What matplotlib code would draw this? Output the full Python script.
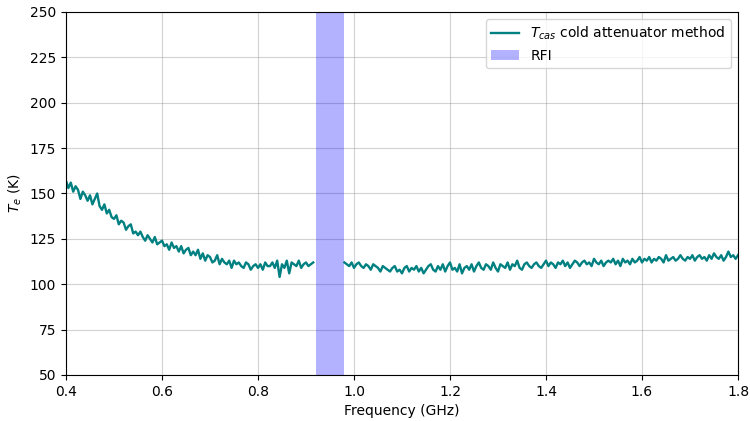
import numpy as np
import matplotlib
matplotlib.use("Agg")
import matplotlib.pyplot as plt

# Receiver noise temperature from the cold attenuator method (K)
freq_low = np.round(np.arange(0.400, 0.9151, 0.005), 3)
te_low = [
    157, 153, 156, 151, 154, 152, 147, 151, 149, 146,
    149, 144, 147, 150, 143, 141, 144, 139, 141, 137,
    136, 138, 133, 135, 134, 130, 132, 133, 128, 129,
    127, 129, 126, 124, 127, 125, 123, 126, 122, 123,
    124, 121, 122, 119, 123, 120, 121, 118, 121, 117,
    119, 120, 116, 118, 116, 119, 114, 117, 113, 116,
    115, 112, 113, 116, 111, 114, 112, 111, 113, 109,
    113, 111, 112, 110, 109, 112, 111, 108, 110, 111,
    109, 111, 108, 112, 110, 110, 112, 109, 113, 104,
    111, 109, 113, 106, 112, 111, 110, 113, 109, 111,
    112, 110, 111, 112,
]

freq_high = np.round(np.arange(0.980, 1.8001, 0.005), 3)
te_high = [
    112, 111, 110, 112, 109, 111, 112, 110, 109, 111,
    110, 108, 111, 110, 109, 107, 110, 109, 108, 107,
    109, 110, 107, 108, 106, 109, 110, 107, 109, 108,
    110, 107, 109, 106, 108, 110, 111, 108, 107, 110,
    108, 111, 107, 110, 112, 108, 109, 107, 111, 106,
    109, 110, 108, 111, 107, 110, 112, 109, 108, 111,
    110, 108, 112, 109, 107, 111, 110, 109, 112, 108,
    111, 110, 113, 109, 108, 111, 112, 110, 109, 111,
    112, 110, 109, 111, 113, 110, 112, 111, 109, 112,
    111, 113, 110, 112, 109, 111, 113, 112, 110, 112,
    113, 111, 112, 110, 114, 112, 111, 113, 110, 112,
    113, 112, 114, 111, 113, 110, 114, 112, 113, 111,
    114, 112, 113, 115, 112, 114, 113, 115, 112, 114,
    113, 115, 114, 112, 116, 113, 114, 115, 113, 114,
    116, 114, 113, 115, 114, 116, 113, 115, 116, 114,
    115, 113, 116, 114, 117, 115, 114, 116, 113, 115,
    118, 115, 116, 114, 116,
]

rfi_band = (0.92, 0.98)

# Combine both segments with a break across the RFI band
freq = np.concatenate([freq_low, [np.nan], freq_high])
te = np.concatenate([te_low, [np.nan], te_high])

fig = plt.figure(figsize=(7.5, 4.21), dpi=100)
ax = fig.add_axes([0.088, 0.1093, 0.896, 0.8622])

ax.plot(freq, te, color="teal", lw=1.7, label=r"$T_{cas}$ cold attenuator method")
ax.axvspan(*rfi_band, color="blue", alpha=0.3, lw=0, label="RFI")

ax.set_xlim(0.4, 1.8)
ax.set_ylim(50, 250)
ax.set_yticks(np.arange(50, 251, 25))
ax.grid(True, color="gray", alpha=0.35, lw=0.8)
ax.set_axisbelow(True)
ax.set_xlabel("Frequency (GHz)")
ax.set_ylabel(r"$T_e$ (K)")
ax.legend(loc="upper right")

fig.savefig("out.png", dpi=100)
